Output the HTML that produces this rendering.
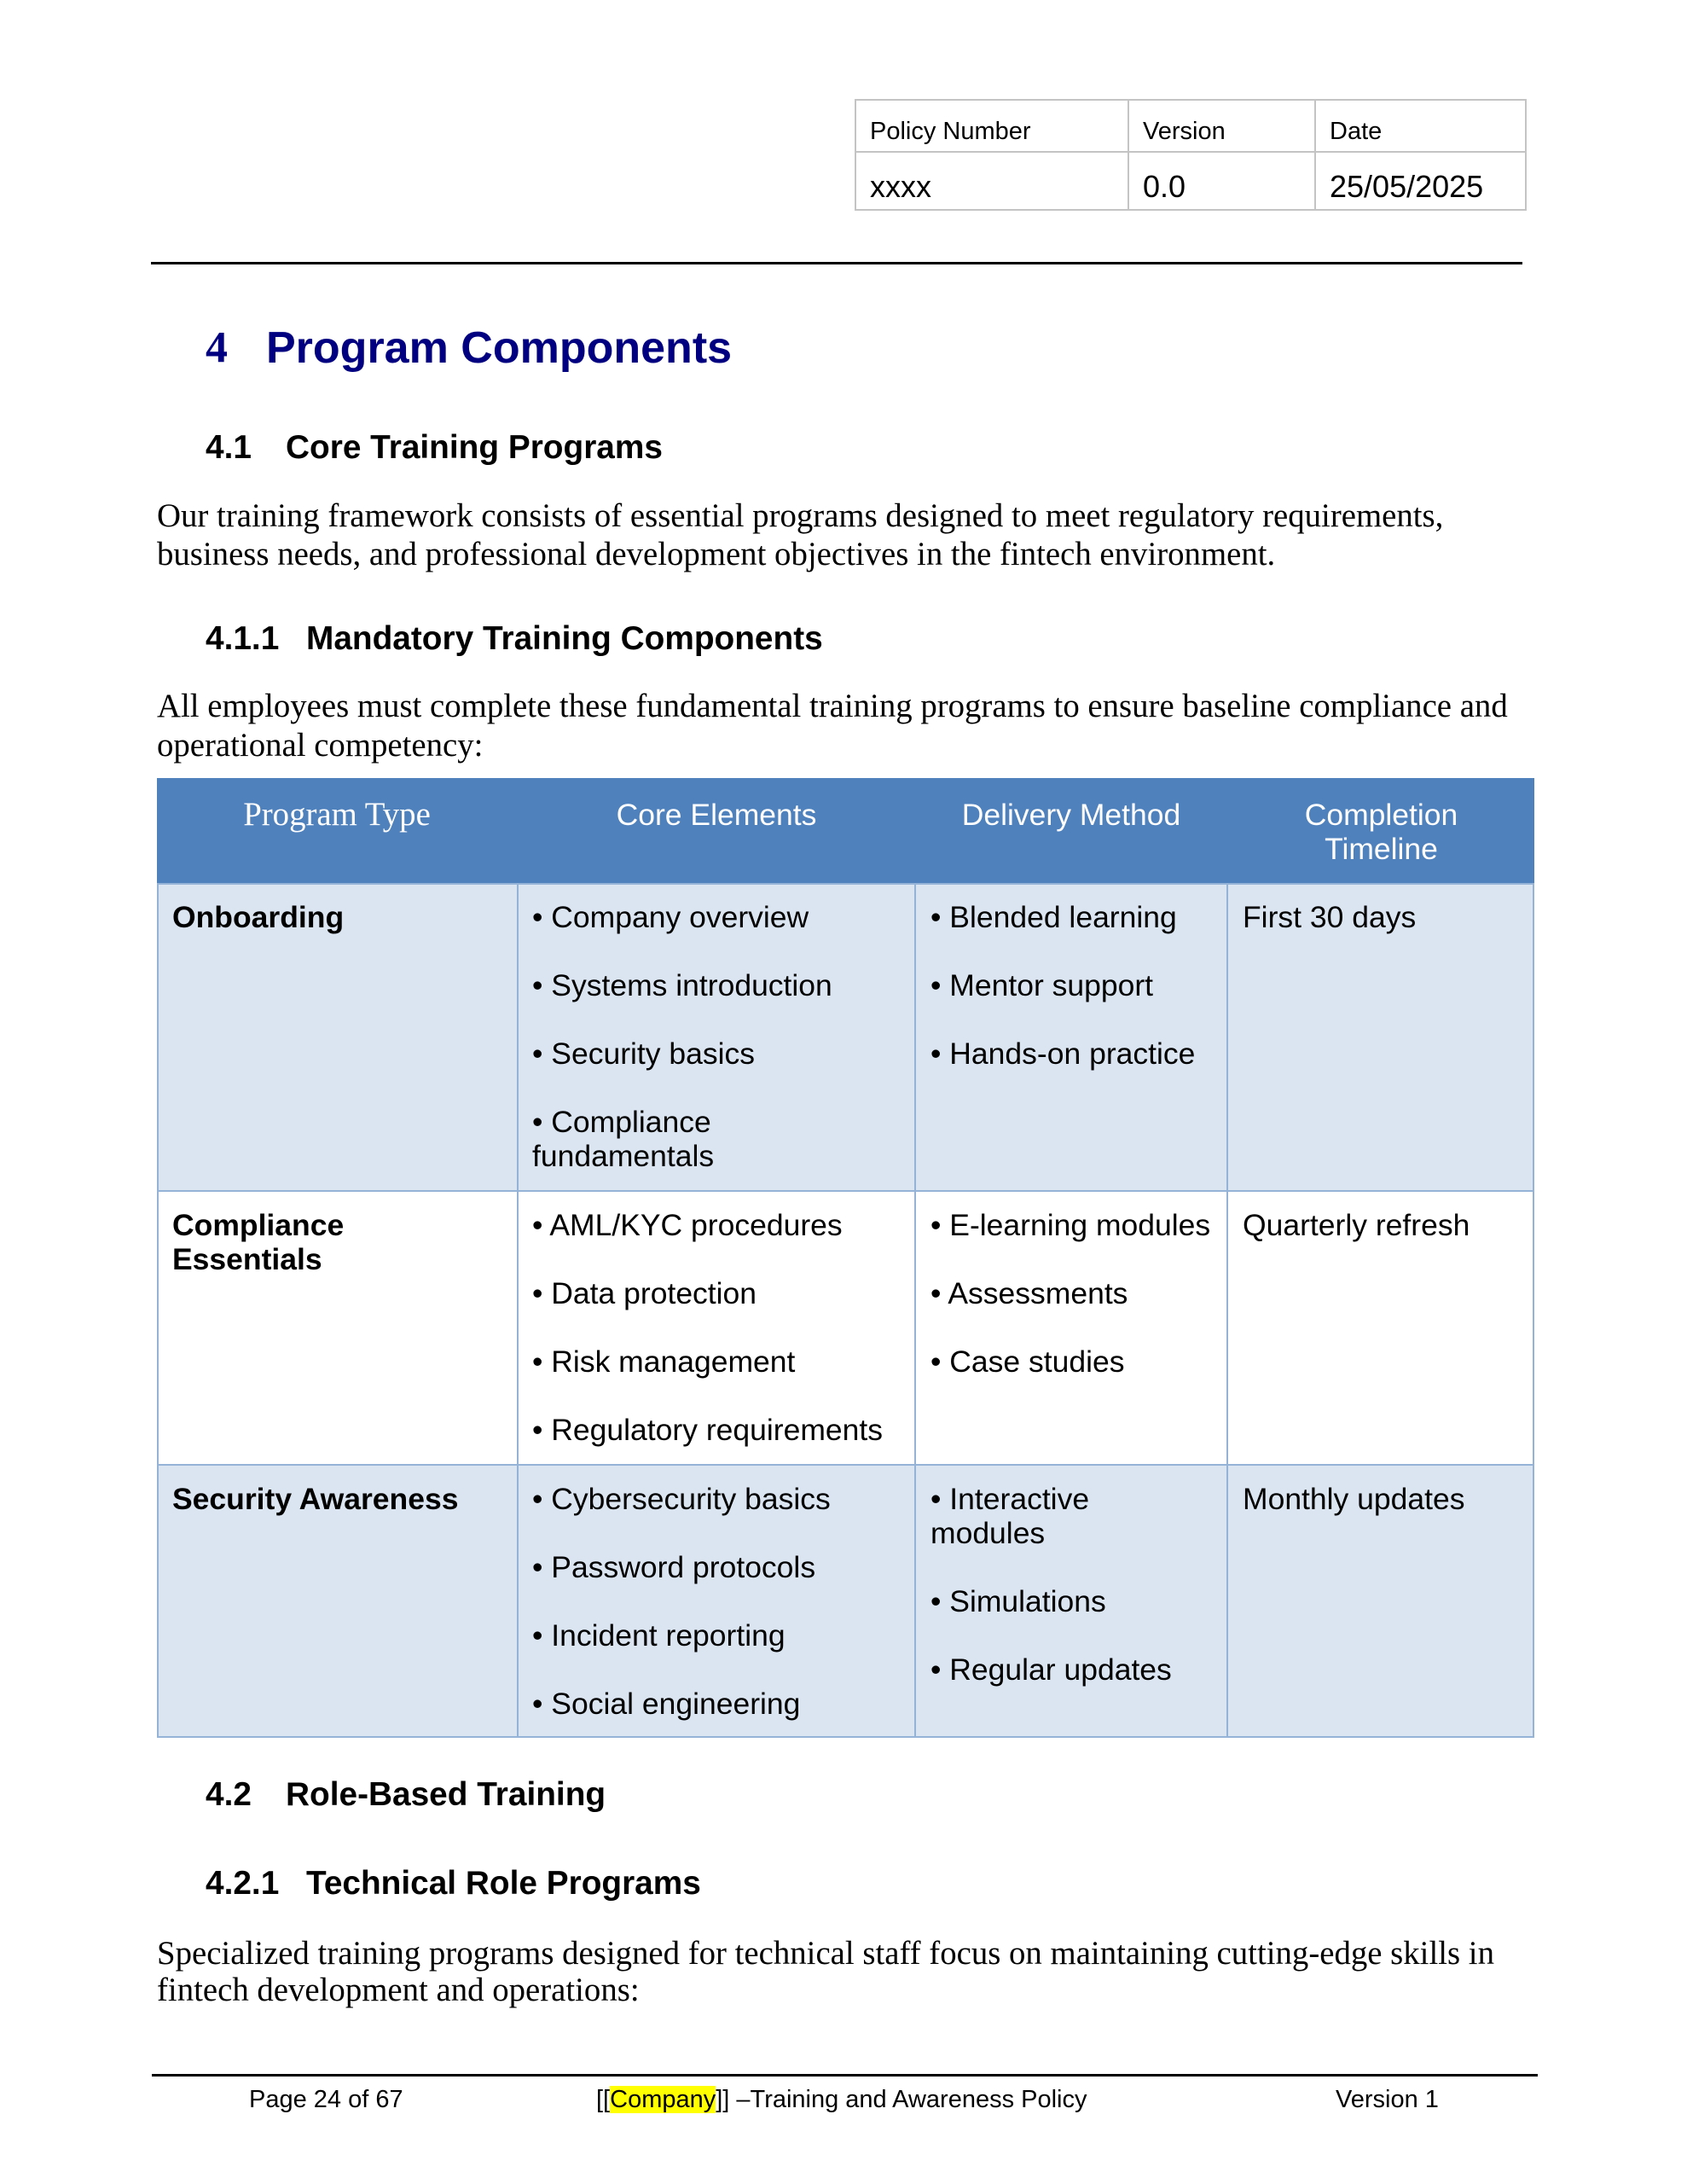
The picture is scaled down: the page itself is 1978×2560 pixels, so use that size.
<!DOCTYPE html>
<html><head><meta charset="utf-8"><style>
*{margin:0;padding:0;box-sizing:border-box}
body{width:1978px;height:2560px;background:#fff;position:relative;overflow:hidden;font-family:"Liberation Sans",Arial,sans-serif;color:#000}
.a{position:absolute;white-space:nowrap}
.s{font-family:"Liberation Serif","Times New Roman",serif}
.h{font-weight:bold}
.it{position:absolute;font-size:35.5px;line-height:40px;white-space:nowrap}
.b{font-weight:bold}
</style></head><body>
<!-- header table -->
<div style="position:absolute;left:1002px;top:116px;width:788px;height:131px;border:2px solid #c4c4c4"></div>
<div style="position:absolute;left:1002px;top:177px;width:788px;height:2px;background:#c4c4c4"></div>
<div style="position:absolute;left:1322px;top:116px;width:2px;height:131px;background:#c4c4c4"></div>
<div style="position:absolute;left:1541px;top:116px;width:2px;height:131px;background:#c4c4c4"></div>
<div class="a" style="left:1020px;top:137px;font-size:29px;line-height:34px">Policy Number</div>
<div class="a" style="left:1340px;top:137px;font-size:29px;line-height:34px">Version</div>
<div class="a" style="left:1559px;top:137px;font-size:29px;line-height:34px">Date</div>
<div class="a" style="left:1020px;top:199px;font-size:36px;line-height:40px">xxxx</div>
<div class="a" style="left:1340px;top:199px;font-size:36px;line-height:40px">0.0</div>
<div class="a" style="left:1559px;top:199px;font-size:36px;line-height:40px">25/05/2025</div>
<div style="position:absolute;left:177px;top:307px;width:1608px;height:3px;background:#000"></div>

<div class="a s h" style="left:241px;top:378px;font-size:52px;line-height:60px;color:#000080">4</div>
<div class="a h" style="left:312px;top:378px;font-size:52px;line-height:60px;color:#000080">Program Components</div>

<div class="a h" style="left:241px;top:503px;font-size:38.8px;line-height:44px">4.1</div>
<div class="a h" style="left:335px;top:503px;font-size:38.8px;line-height:44px">Core Training Programs</div>
<div class="a s" style="left:184px;top:583px;font-size:38.8px;line-height:44px">Our training framework consists of essential programs designed to meet regulatory requirements,</div>
<div class="a s" style="left:184px;top:628px;font-size:38.8px;line-height:44px">business needs, and professional development objectives in the fintech environment.</div>

<div class="a h" style="left:241px;top:727px;font-size:38.8px;line-height:44px">4.1.1</div>
<div class="a h" style="left:359px;top:727px;font-size:38.8px;line-height:44px">Mandatory Training Components</div>
<div class="a s" style="left:184px;top:806px;font-size:38.8px;line-height:44px">All employees must complete these fundamental training programs to ensure baseline compliance and</div>
<div class="a s" style="left:184px;top:852px;font-size:38.8px;line-height:44px">operational competency:</div>

<!-- main table -->
<div style="position:absolute;left:184px;top:912px;width:1615px;height:123px;background:#4f81bd"></div>
<div style="position:absolute;left:184px;top:1035px;width:1615px;height:361px;background:#dbe5f1"></div>
<div style="position:absolute;left:184px;top:1396px;width:1615px;height:321px;background:#fff"></div>
<div style="position:absolute;left:184px;top:1717px;width:1615px;height:320px;background:#dbe5f1"></div>
<div style="position:absolute;left:184px;top:1035px;width:1615px;height:1002px;border:2px solid #95b3d7"></div>
<div style="position:absolute;left:184px;top:1395px;width:1615px;height:2px;background:#95b3d7"></div>
<div style="position:absolute;left:184px;top:1716px;width:1615px;height:2px;background:#95b3d7"></div>
<div style="position:absolute;left:606px;top:1035px;width:2px;height:1002px;background:#95b3d7"></div>
<div style="position:absolute;left:1072px;top:1035px;width:2px;height:1002px;background:#95b3d7"></div>
<div style="position:absolute;left:1438px;top:1035px;width:2px;height:1002px;background:#95b3d7"></div>

<div class="a s" style="left:184px;width:422px;text-align:center;top:933px;font-size:38.8px;line-height:44px;color:#fff">Program Type</div>
<div class="a" style="left:608px;width:464px;text-align:center;top:935px;font-size:35.5px;line-height:40px;color:#fff">Core Elements</div>
<div class="a" style="left:1074px;width:364px;text-align:center;top:935px;font-size:35.5px;line-height:40px;color:#fff">Delivery Method</div>
<div class="a" style="left:1440px;width:359px;text-align:center;top:935px;font-size:35.5px;line-height:40px;color:#fff">Completion<br>Timeline</div>

<div class="it b" style="left:202px;top:1055px">Onboarding</div>
<div class="it" style="left:624px;top:1055px">• Company overview</div>
<div class="it" style="left:624px;top:1135px">• Systems introduction</div>
<div class="it" style="left:624px;top:1215px">• Security basics</div>
<div class="it" style="left:624px;top:1295px">• Compliance<br>fundamentals</div>
<div class="it" style="left:1091px;top:1055px">• Blended learning</div>
<div class="it" style="left:1091px;top:1135px">• Mentor support</div>
<div class="it" style="left:1091px;top:1215px">• Hands-on practice</div>
<div class="it" style="left:1457px;top:1055px">First 30 days</div>

<div class="it b" style="left:202px;top:1416px">Compliance<br>Essentials</div>
<div class="it" style="left:624px;top:1416px">• AML/KYC procedures</div>
<div class="it" style="left:624px;top:1496px">• Data protection</div>
<div class="it" style="left:624px;top:1576px">• Risk management</div>
<div class="it" style="left:624px;top:1656px">• Regulatory requirements</div>
<div class="it" style="left:1091px;top:1416px">• E-learning modules</div>
<div class="it" style="left:1091px;top:1496px">• Assessments</div>
<div class="it" style="left:1091px;top:1576px">• Case studies</div>
<div class="it" style="left:1457px;top:1416px">Quarterly refresh</div>

<div class="it b" style="left:202px;top:1737px">Security Awareness</div>
<div class="it" style="left:624px;top:1737px">• Cybersecurity basics</div>
<div class="it" style="left:624px;top:1817px">• Password protocols</div>
<div class="it" style="left:624px;top:1897px">• Incident reporting</div>
<div class="it" style="left:624px;top:1977px">• Social engineering</div>
<div class="it" style="left:1091px;top:1737px">• Interactive<br>modules</div>
<div class="it" style="left:1091px;top:1857px">• Simulations</div>
<div class="it" style="left:1091px;top:1937px">• Regular updates</div>
<div class="it" style="left:1457px;top:1737px">Monthly updates</div>

<div class="a h" style="left:241px;top:2082px;font-size:38.8px;line-height:44px">4.2</div>
<div class="a h" style="left:335px;top:2082px;font-size:38.8px;line-height:44px">Role-Based Training</div>
<div class="a h" style="left:241px;top:2186px;font-size:38.8px;line-height:44px">4.2.1</div>
<div class="a h" style="left:359px;top:2186px;font-size:38.8px;line-height:44px">Technical Role Programs</div>
<div class="a s" style="left:184px;top:2268px;font-size:38.8px;line-height:44px">Specialized training programs designed for technical staff focus on maintaining cutting-edge skills in</div>
<div class="a s" style="left:184px;top:2311px;font-size:38.8px;line-height:44px">fintech development and operations:</div>

<div style="position:absolute;left:178px;top:2431px;width:1625px;height:3px;background:#000"></div>
<div class="a" style="left:292px;top:2444px;font-size:29px;line-height:34px">Page 24 of 67</div>
<div class="a" style="left:699px;top:2444px;font-size:29px;line-height:34px">[[<span style="background:#ffff00">Company</span>]] –Training and Awareness Policy</div>
<div class="a" style="left:1566px;top:2444px;font-size:29px;line-height:34px">Version 1</div>
</body></html>
